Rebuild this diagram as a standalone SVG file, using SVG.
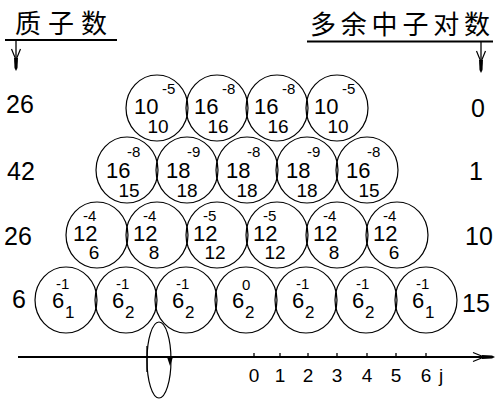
<svg xmlns="http://www.w3.org/2000/svg" xmlns:xlink="http://www.w3.org/1999/xlink" width="496" height="401" viewBox="0 0 496 401">
<style>
.bg{fill:#fff}
.c{fill:none;stroke:#000;stroke-width:1.2}
.t{font-family:"Liberation Sans",Arial,sans-serif;fill:#000}
.m{font-size:22px}
.s{font-size:15px}
.b{font-size:19px;text-anchor:middle}
.sub{font-size:17px}
.n{font-size:25px}
.ax{font-size:19px;text-anchor:middle}
.h{font-family:"Noto Sans CJK SC","Noto Sans CJK JP",sans-serif;font-size:26px;fill:#000}
.ln{stroke:#000;stroke-width:2;fill:none}
.th{stroke:#000;stroke-width:1.3;fill:none}
</style>
<defs>
<g id="head">
<path d="M-4.5,-22 L0,-11 L4.5,-22" fill="none" stroke="#000" stroke-width="1.2"/>
<polygon points="-2,-13 2,-13 1.5,-3 0,0 -1.5,-3" fill="#000"/>
</g>
</defs>
<rect class="bg" x="0" y="0" width="496" height="401"/>

<g id="header-left">
<text class="h" x="15" y="33" letter-spacing="7">质子数</text>
</g>
<g id="header-right">
<text class="h" x="310" y="34" letter-spacing="4.8">多余中子对数</text>
</g>

<g id="connectors">
<line class="ln" x1="5" y1="40" x2="117" y2="40"/>
<line class="th" x1="16" y1="40" x2="16" y2="68"/>
<use xlink:href="#head" transform="translate(16,71)"/>
<line class="ln" x1="307" y1="41.5" x2="493" y2="41.5"/>
<line class="th" x1="481" y1="42" x2="481" y2="70"/>
<use xlink:href="#head" transform="translate(481,73)"/>
<line class="ln" x1="18" y1="357" x2="490" y2="357"/>
<use xlink:href="#head" transform="translate(495,357) rotate(-90)"/>
<g class="th">
<line x1="254" y1="353" x2="254" y2="357"/>
<line x1="280" y1="353" x2="280" y2="357"/>
<line x1="308" y1="353" x2="308" y2="357"/>
<line x1="337" y1="353" x2="337" y2="357"/>
<line x1="367" y1="353" x2="367" y2="357"/>
<line x1="396" y1="353" x2="396" y2="357"/>
<line x1="426" y1="353" x2="426" y2="357"/>
<line x1="147" y1="346" x2="147" y2="372"/>
</g>
<ellipse class="c" cx="159" cy="360" rx="12" ry="38"/>
<polygon points="167,357 173,357 170,366" fill="#000"/>
</g>

<g id="axis-labels" class="t ax">
<text x="254" y="382">0</text>
<text x="280" y="382">1</text>
<text x="308" y="382">2</text>
<text x="337" y="382">3</text>
<text x="367" y="382">4</text>
<text x="396" y="382">5</text>
<text x="426" y="382">6</text>
<text x="441" y="382">j</text>
</g>

<g id="left-numbers" class="t n">
<text x="6" y="113">26</text>
<text x="7" y="180">42</text>
<text x="4" y="245">26</text>
<text x="12" y="308">6</text>
</g>
<g id="right-numbers" class="t n">
<text x="471" y="117">0</text>
<text x="469" y="180">1</text>
<text x="465" y="245">10</text>
<text x="462" y="312">15</text>
</g>

<!-- Row 1 cy=108 -->
<g id="r1c1"><ellipse class="c" cx="157" cy="108" rx="31" ry="33"/><text class="t m" x="134" y="114">10</text><text class="t s" x="162" y="94">-5</text><text class="t b" x="158" y="133">10</text></g>
<g id="r1c2"><ellipse class="c" cx="217" cy="108" rx="31" ry="33"/><text class="t m" x="194" y="114">16</text><text class="t s" x="222" y="94">-8</text><text class="t b" x="218" y="133">16</text></g>
<g id="r1c3"><ellipse class="c" cx="277" cy="108" rx="31" ry="33"/><text class="t m" x="254" y="114">16</text><text class="t s" x="282" y="94">-8</text><text class="t b" x="278" y="133">16</text></g>
<g id="r1c4"><ellipse class="c" cx="337" cy="108" rx="31" ry="33"/><text class="t m" x="314" y="114">10</text><text class="t s" x="342" y="94">-5</text><text class="t b" x="338" y="133">10</text></g>

<!-- Row 2 cy=170 -->
<g id="r2c1"><ellipse class="c" cx="127" cy="170" rx="31" ry="33"/><text class="t m" x="106" y="178">16</text><text class="t s" x="127" y="157">-8</text><text class="t b" x="129" y="197">15</text></g>
<g id="r2c2"><ellipse class="c" cx="187" cy="170" rx="31" ry="33"/><text class="t m" x="166" y="178">18</text><text class="t s" x="187" y="157">-9</text><text class="t b" x="187" y="197">18</text></g>
<g id="r2c3"><ellipse class="c" cx="247" cy="170" rx="31" ry="33"/><text class="t m" x="226" y="178">18</text><text class="t s" x="247" y="157">-8</text><text class="t b" x="247" y="197">18</text></g>
<g id="r2c4"><ellipse class="c" cx="307" cy="170" rx="31" ry="33"/><text class="t m" x="286" y="178">18</text><text class="t s" x="307" y="157">-9</text><text class="t b" x="307" y="197">18</text></g>
<g id="r2c5"><ellipse class="c" cx="367" cy="170" rx="31" ry="33"/><text class="t m" x="346" y="178">16</text><text class="t s" x="367" y="157">-8</text><text class="t b" x="369" y="197">15</text></g>

<!-- Row 3 cy=235 -->
<g id="r3c1"><ellipse class="c" cx="97" cy="235" rx="31" ry="33"/><text class="t m" x="73" y="241">12</text><text class="t s" x="83" y="221">-4</text><text class="t b" x="94" y="259">6</text></g>
<g id="r3c2"><ellipse class="c" cx="157" cy="235" rx="31" ry="33"/><text class="t m" x="133" y="241">12</text><text class="t s" x="143" y="221">-4</text><text class="t b" x="154" y="259">8</text></g>
<g id="r3c3"><ellipse class="c" cx="217" cy="235" rx="31" ry="33"/><text class="t m" x="193" y="241">12</text><text class="t s" x="203" y="221">-5</text><text class="t b" x="215" y="259">12</text></g>
<g id="r3c4"><ellipse class="c" cx="277" cy="235" rx="31" ry="33"/><text class="t m" x="253" y="241">12</text><text class="t s" x="263" y="221">-5</text><text class="t b" x="275" y="259">12</text></g>
<g id="r3c5"><ellipse class="c" cx="337" cy="235" rx="31" ry="33"/><text class="t m" x="313" y="241">12</text><text class="t s" x="323" y="221">-4</text><text class="t b" x="334" y="259">8</text></g>
<g id="r3c6"><ellipse class="c" cx="397" cy="235" rx="31" ry="33"/><text class="t m" x="373" y="241">12</text><text class="t s" x="383" y="221">-4</text><text class="t b" x="394" y="259">6</text></g>

<!-- Row 4 cy=300 -->
<g id="r4c1"><ellipse class="c" cx="66" cy="300" rx="31" ry="33"/><text class="t m" x="52" y="308">6</text><text class="t s" x="56" y="289">-1</text><text class="t sub" x="65" y="318">1</text></g>
<g id="r4c2"><ellipse class="c" cx="126" cy="300" rx="31" ry="33"/><text class="t m" x="112" y="308">6</text><text class="t s" x="116" y="289">-1</text><text class="t sub" x="125" y="318">2</text></g>
<g id="r4c3"><ellipse class="c" cx="186" cy="300" rx="31" ry="33"/><text class="t m" x="172" y="308">6</text><text class="t s" x="176" y="289">-1</text><text class="t sub" x="185" y="318">2</text></g>
<g id="r4c4"><ellipse class="c" cx="246" cy="300" rx="31" ry="33"/><text class="t m" x="232" y="308">6</text><text class="t s" x="242" y="290">0</text><text class="t sub" x="245" y="318">2</text></g>
<g id="r4c5"><ellipse class="c" cx="306" cy="300" rx="31" ry="33"/><text class="t m" x="292" y="308">6</text><text class="t s" x="296" y="289">-1</text><text class="t sub" x="305" y="318">2</text></g>
<g id="r4c6"><ellipse class="c" cx="366" cy="300" rx="31" ry="33"/><text class="t m" x="352" y="308">6</text><text class="t s" x="356" y="289">-1</text><text class="t sub" x="365" y="318">2</text></g>
<g id="r4c7"><ellipse class="c" cx="426" cy="300" rx="31" ry="33"/><text class="t m" x="412" y="308">6</text><text class="t s" x="416" y="289">-1</text><text class="t sub" x="425" y="318">1</text></g>
</svg>
